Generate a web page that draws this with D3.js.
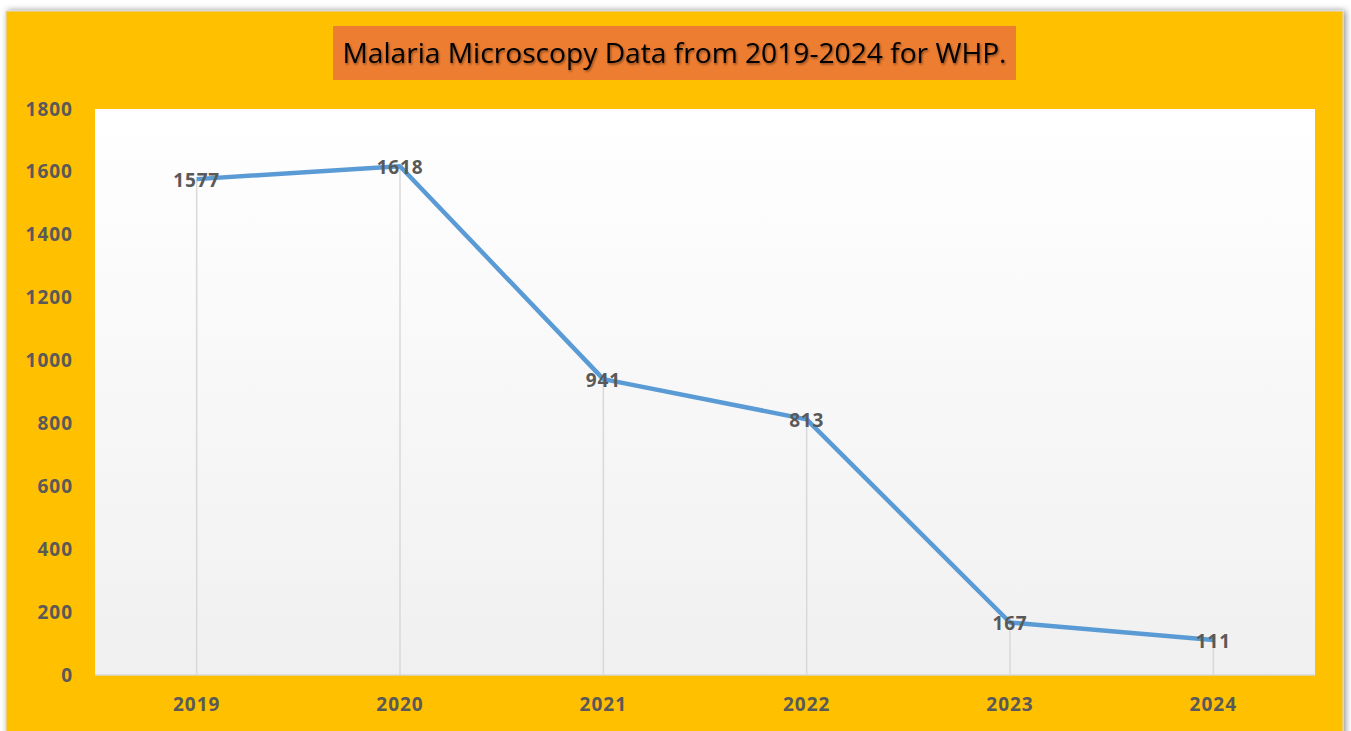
<!DOCTYPE html>
<html>
<head>
<meta charset="utf-8">
<script src="https://cdn.jsdelivr.net/npm/d3@7"></script>
<style>
    body { margin: 0; background: #ffffff; }
    .tick-label { font-family: "Open Sans", "Noto Sans", sans-serif; font-weight: bold; fill: #595959; font-size: 19px; letter-spacing: 1px; }
    .data-label { font-family: "Open Sans", "Noto Sans", sans-serif; font-weight: bold; fill: #595959; font-size: 19px; letter-spacing: 0.8px; }
</style>
</head>
<body>
<div id="vis"></div>
<script>
// Chart data
var years = ['2019', '2020', '2021', '2022', '2023', '2024'];
var cases = [1577, 1618, 941, 813, 167, 111];
var yTicks = [0, 200, 400, 600, 800, 1000, 1200, 1400, 1600, 1800];
var title = 'Malaria Microscopy Data from 2019-2024 for WHP.';

var width = 1351;
var height = 731;

// plot area inside the yellow frame
var margin = { left: 95, top: 109, right: 36, bottom: 56 };
var drawWidth = width - margin.left - margin.right;
var drawHeight = height - margin.top - margin.bottom;

var svg = d3.select('#vis')
    .append('svg')
    .attr('width', width)
    .attr('height', height);

var defs = svg.append('defs');

// shadow round the frame
var shadow = defs.append('filter').attr('id', 'shadow')
    .attr('x', '-5%').attr('y', '-5%').attr('width', '110%').attr('height', '110%');
shadow.append('feDropShadow')
    .attr('dx', 2).attr('dy', 0).attr('stdDeviation', 3)
    .attr('flood-color', '#000').attr('flood-opacity', 0.45);

// plot area gradient
var grad = defs.append('linearGradient').attr('id', 'plotGrad')
    .attr('x1', 0).attr('y1', 0).attr('x2', 0).attr('y2', 1);
grad.append('stop').attr('offset', '0%').attr('stop-color', '#ffffff');
grad.append('stop').attr('offset', '100%').attr('stop-color', '#f0f0f0');

// title shadow
var tshadow = defs.append('filter').attr('id', 'tshadow');
tshadow.append('feDropShadow')
    .attr('dx', 1).attr('dy', 1.5).attr('stdDeviation', 1)
    .attr('flood-color', '#000').attr('flood-opacity', 0.45);

// outer yellow frame
svg.append('rect')
    .attr('x', 6).attr('y', 11)
    .attr('width', 1337).attr('height', 730)
    .style('fill', '#FFC000')
    .style('stroke', '#d9d9d9')
    .style('stroke-width', 1)
    .attr('filter', 'url(#shadow)');

// title box
svg.append('rect')
    .attr('x', 333).attr('y', 26)
    .attr('width', 683).attr('height', 54)
    .style('fill', '#ED7D31');

svg.append('text')
    .attr('x', 674.5).attr('y', 63)
    .attr('text-anchor', 'middle')
    .attr('textLength', 664)
    .attr('lengthAdjust', 'spacingAndGlyphs')
    .style('font-family', '"Open Sans", "Noto Sans", sans-serif')
    .style('font-size', '27px')
    .style('fill', '#000')
    .attr('filter', 'url(#tshadow)')
    .text(title);

var g = svg.append('g')
    .attr('transform', 'translate(' + margin.left + ',' + margin.top + ')');

g.append('rect')
    .attr('width', drawWidth)
    .attr('height', drawHeight)
    .style('fill', 'url(#plotGrad)');

var xScale = d3.scaleBand()
    .domain(years)
    .range([0, drawWidth]);

var yScale = d3.scaleLinear()
    .domain([0, 1800])
    .range([drawHeight, 0]);

// bottom line of plot
g.append('line')
    .attr('x1', 0).attr('x2', drawWidth)
    .attr('y1', drawHeight).attr('y2', drawHeight)
    .style('stroke', '#d9d9d9').style('stroke-width', 1.5);

// y axis labels
var yAxis = d3.axisLeft(yScale)
    .tickValues(yTicks)
    .tickSize(0)
    .tickPadding(22)
    .tickFormat(d3.format('d'));
var yAxisG = g.append('g').call(yAxis);
yAxisG.select('.domain').remove();
yAxisG.selectAll('text').attr('class', 'tick-label').attr('fill', null).attr('font-family', null).attr('font-size', null);

// x axis labels
var xAxis = d3.axisBottom(xScale)
    .tickSize(0)
    .tickPadding(23);
var xAxisG = g.append('g')
    .attr('transform', 'translate(0,' + drawHeight + ')')
    .call(xAxis);
xAxisG.select('.domain').remove();
xAxisG.selectAll('text').attr('class', 'tick-label').attr('fill', null).attr('font-family', null).attr('font-size', null);

var points = years.map(function (y, i) {
    return { year: y, value: cases[i] };
});

var cx = function (d) { return xScale(d.year) + xScale.bandwidth() / 2; };

// drop lines
g.selectAll('.drop')
    .data(points)
    .enter().append('line')
    .attr('class', 'drop')
    .attr('x1', cx).attr('x2', cx)
    .attr('y1', function (d) { return yScale(d.value); })
    .attr('y2', drawHeight)
    .style('stroke', '#d9d9d9')
    .style('stroke-width', 1.5);

var line = d3.line()
    .x(cx)
    .y(function (d) { return yScale(d.value); });

g.append('path')
    .datum(points)
    .attr('d', line)
    .style('fill', 'none')
    .style('stroke', '#5B9BD5')
    .style('stroke-width', 4.5)
    .style('stroke-linejoin', 'round');

// data labels
g.selectAll('.data-label')
    .data(points)
    .enter().append('text')
    .attr('class', 'data-label')
    .attr('x', cx)
    .attr('y', function (d) { return yScale(d.value) + 8; })
    .attr('text-anchor', 'middle')
    .text(function (d) { return d.value; });
</script>
</body>
</html>
